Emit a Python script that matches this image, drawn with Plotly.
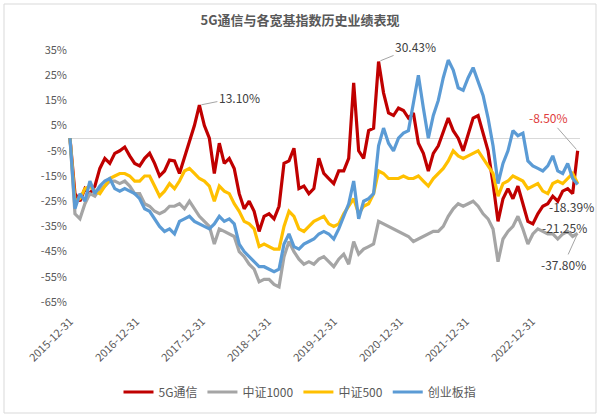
import pandas as pd
import plotly.graph_objects as go

dates = pd.date_range("2015-12-31", "2023-09-10", periods=103)

s_5g = [0, -22, -25, -20, -22, -19, -12, -8, -10, -6, -5, -3.5, -7, -10, -11, -8, -6, -10, -15, -13,
        -8.7, -9, -14, -8, -2, 5, 13.1, 5, 0, -14, -2, -10, -8, -12, -22, -28, -25, -29, -37, -31,
        -30, -32, -27, -10, -9, -4, -20, -19, -22, -20, -8, -14, -16, -18, -13, -13, -8, 22, -5, -8,
        3, 4, 30.43, 18, 10, 9, 12, 11, 8, 10, -2, -6, -13, -6, -3, 3, 8, 3, 0, -5,
        2, 8, 9, 2, -5, -18, -33, -24, -20, -24, -19, -26, -33, -34, -30, -27, -26, -23, -25, -21,
        -20, -22, -5]
s_1000 = [0, -30, -32, -26, -22, -23, -20, -19, -17, -17, -18, -17, -19, -22, -22, -26, -27, -29, -30, -29,
          -27, -27, -26, -28, -25, -28, -31, -33, -35, -42, -36, -37, -38, -39, -45, -47, -50, -52, -57, -56,
          -56, -58, -59, -47, -41, -45, -48, -50, -49, -50, -48, -47, -49, -51, -48, -46, -50, -41, -46, -44,
          -43, -42, -33, -34, -35, -36, -37, -38, -39, -41, -40, -39, -38, -37, -37, -35, -31, -28, -26, -27,
          -26, -25, -27, -30, -32, -36, -49, -40, -37, -35, -31, -36, -42, -38, -36, -37, -38, -38, -40, -38,
          -37, -39, -37.8]
s_500 = [0, -25, -24, -20, -19, -21, -22, -19, -16, -15, -14, -14, -15, -17, -17, -15, -15, -19, -23, -21,
         -18, -20, -17, -13, -12, -14, -16, -17, -19, -25, -19, -21, -22, -26, -29, -33, -34, -36, -43, -42,
         -43, -44, -44, -35, -29, -31, -36, -37, -35, -33, -32, -31, -34, -35, -34, -30, -27, -24, -30, -27,
         -26, -22, -13, -14, -16, -16, -16, -15, -16, -16, -15, -17, -19, -16, -14, -12, -9, -5, -7, -8,
         -7, -6, -5, -8, -11, -14, -23, -18, -17, -15, -16, -17, -20, -19, -18, -21, -22, -18, -17, -18,
         -16, -14, -18]
s_cyb = [0, -28, -22, -25, -17, -22, -19, -17, -16, -20, -21, -20, -21, -22, -24, -28, -29, -32, -35, -37,
         -36, -38, -33, -32, -31, -33, -34, -35, -36, -34, -31, -33, -32, -34, -42, -45, -47, -49, -51, -51,
         -52, -53, -52, -42, -38, -43, -44, -42, -41, -40, -38, -37, -38, -40, -36, -31, -26, -17, -32, -25,
         -24, -22, -3, 4, -2, -5, 0, 2, 3, 14, 25, 12, 0, 9, 15, 24, 31, 27, 20, 19,
         24, 28, 22, 17, 8, -3, -18, -10, -5, 3, 1, 2, -9, -11, -12, -13, -11, -7, -13, -14,
         -10, -16, -18.39]

series_names = ["5G通信", "中证1000", "中证500", "创业板指"]
series_vals = [s_5g, s_1000, s_500, s_cyb]
series_colors = ["#C00000", "#A5A5A5", "#FFC000", "#5B9BD5"]

tick_dates = ["2015-12-31", "2016-12-31", "2017-12-31", "2018-12-31",
              "2019-12-31", "2020-12-31", "2021-12-31", "2022-12-31"]
y_ticks = list(range(-65, 36, 10))
y_text = [f"{v}%" for v in y_ticks]

FONT = "Noto Sans CJK SC"
TXT = "#595959"

fig = go.Figure()
for name, vals, col in zip(series_names, series_vals, series_colors):
    fig.add_trace(go.Scatter(x=dates, y=vals, mode="lines", name=name,
                             line=dict(color=col, width=3.2)))

L, R, T, B = 68, 20, 50, 117
W, H = 600, 419
pw, ph = W - L - R, H - T - B

def px(xp):
    return (xp - L) / pw

def py(yp):
    return (H - B - yp) / ph

fig.update_layout(
    width=W, height=H,
    margin=dict(l=L, r=R, t=T, b=B, autoexpand=False),
    paper_bgcolor="white", plot_bgcolor="white",
    font=dict(family=FONT, size=11, color=TXT),
    title=dict(text="<b>5G通信与各宽基指数历史业绩表现</b>", x=0.5, xref="container", xanchor="center",
               y=1 - 20 / H, yanchor="middle", font=dict(size=13, color=TXT, family=FONT)),
    showlegend=True,
    legend=dict(orientation="h", x=px(300), xanchor="center",
                y=py(392), yanchor="middle",
                font=dict(size=12, color=TXT), itemwidth=30, tracegroupgap=0,
                bgcolor="rgba(0,0,0,0)"),
    xaxis=dict(type="date", range=["2015-12-20", "2023-09-23"], tickvals=tick_dates,
               ticktext=tick_dates, tickangle=-45, showgrid=False, zeroline=False,
               showline=False, ticks="", tickfont=dict(size=11, color=TXT), automargin=False,
               ticklabelstandoff=10),
    yaxis=dict(range=[-65, 35], tickvals=y_ticks, ticktext=y_text, showgrid=False,
               zeroline=True, zerolinecolor="#D9D9D9", zerolinewidth=1, showline=False,
               ticks="", tickfont=dict(size=11, color=TXT), automargin=False),
)

fig.add_shape(type="rect", xref="paper", yref="paper", x0=px(4), x1=px(596), y0=py(413), y1=py(4),
              line=dict(color="#D9D9D9", width=1), fillcolor="rgba(0,0,0,0)", layer="below")

ann_font = dict(size=12, color="#404040", family=FONT)
fig.add_annotation(x=dates[26], y=13.1, text="13.10%", showarrow=True, arrowhead=0, arrowwidth=1,
                   arrowcolor="#A5A5A5", ax=40, ay=-8, font=ann_font, standoff=2)
fig.add_annotation(x=dates[62], y=30.43, text="30.43%", showarrow=True, arrowhead=0, arrowwidth=1,
                   arrowcolor="#A5A5A5", ax=37, ay=-15, font=ann_font, standoff=2)
fig.add_annotation(x=dates[102], y=-5, text="-8.50%", showarrow=True, arrowhead=0, arrowwidth=1,
                   arrowcolor="#A5A5A5", ax=-29, ay=-33,
                   font=dict(size=12, color="#E03C3C", family=FONT), standoff=2)
fig.add_annotation(x=dates[102], y=-18.39, text="-18.39%", showarrow=True, arrowhead=0, arrowwidth=0.1,
                   arrowcolor="rgba(0,0,0,0)", ax=-6, ay=22, font=ann_font)
fig.add_annotation(x=dates[102], y=-18, text="-21.25%", showarrow=True, arrowhead=0, arrowwidth=0.1,
                   arrowcolor="rgba(0,0,0,0)", ax=-13, ay=44, font=ann_font)
fig.add_annotation(x=dates[102], y=-37.8, text="-37.80%", showarrow=True, arrowhead=0, arrowwidth=1,
                   arrowcolor="#A5A5A5", ax=-14, ay=31, font=ann_font, standoff=2)

fig.write_html("out.html", config={"displayModeBar": False},
               post_script="document.body.style.margin='0';")
